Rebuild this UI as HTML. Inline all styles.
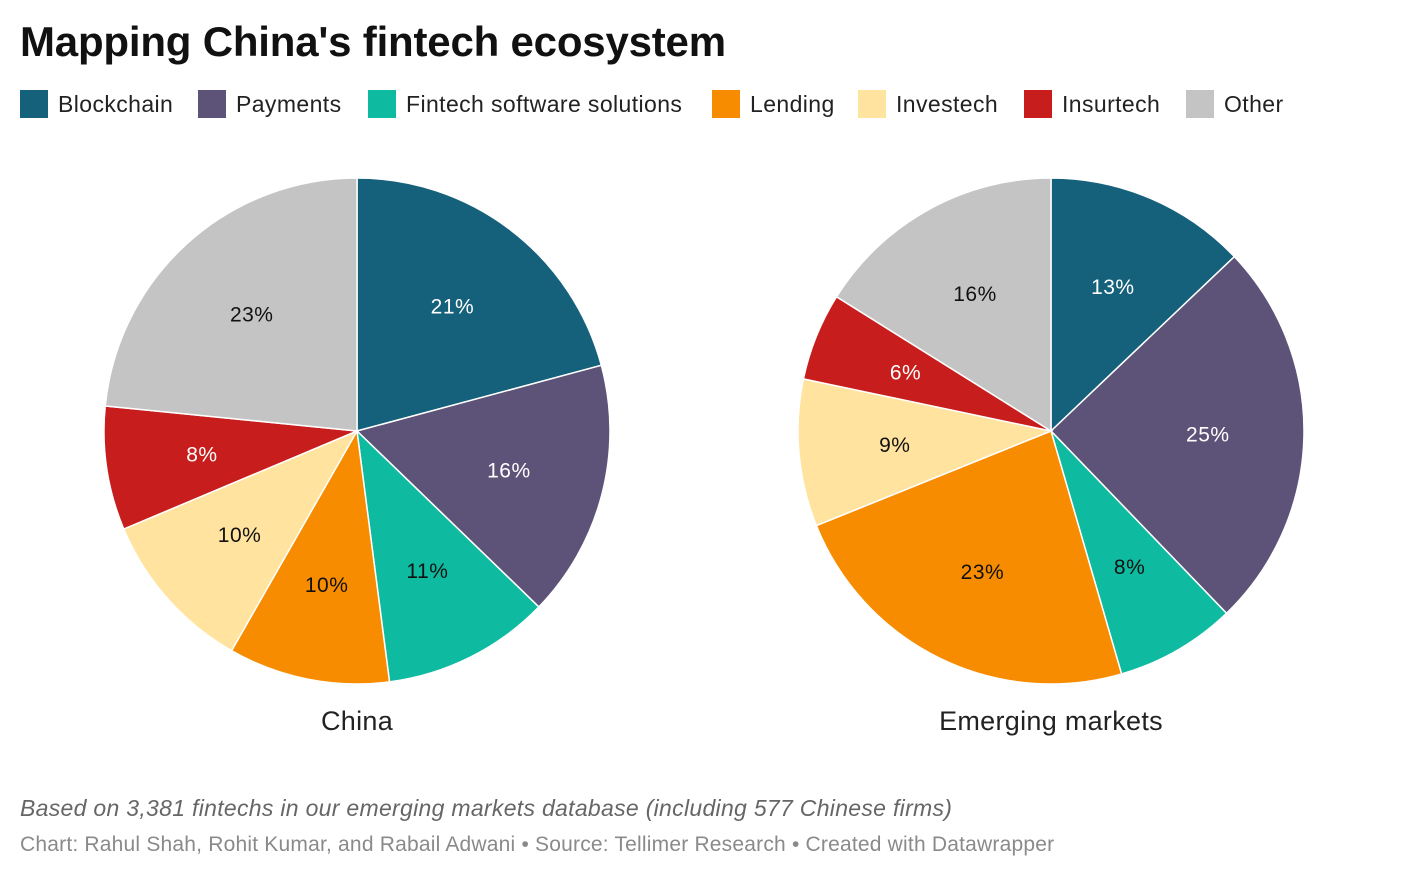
<!DOCTYPE html>
<html><head><meta charset="utf-8">
<style>
body{margin:0;width:1408px;height:880px;background:#fff;font-family:"Liberation Sans",sans-serif;position:relative;overflow:hidden;color:#222}
#title{position:absolute;left:20px;top:18px;font-size:42px;font-weight:bold;letter-spacing:-0.2px;color:#111}
.leg{position:absolute;top:90px;height:28px;display:flex;align-items:center;font-size:23px;letter-spacing:0.4px;color:#222;white-space:nowrap}
.leg span.sw{width:28px;height:28px;display:inline-block;margin-right:10px}
#note{position:absolute;left:20px;top:795px;font-size:23px;letter-spacing:0.3px;font-style:italic;color:#666;white-space:nowrap}
#credit{position:absolute;left:20px;top:833px;font-size:21px;letter-spacing:0.2px;color:#8a8a8a;white-space:nowrap}
</style></head><body>
<div id="title">Mapping China's fintech ecosystem</div>
<div id="legend"></div>
<svg id="chart" width="1408" height="880" style="position:absolute;left:0;top:0"></svg>
<div id="note">Based on 3,381 fintechs in our emerging markets database (including 577 Chinese firms)</div>
<div id="credit">Chart: Rahul Shah, Rohit Kumar, and Rabail Adwani • Source: Tellimer Research • Created with Datawrapper</div>
<script>
const categories=["Blockchain","Payments","Fintech software solutions","Lending","Investech","Insurtech","Other"];
const colors=["#15607a","#5d5277","#0ebba0","#f88c00","#ffe39e","#c71e1d","#c4c4c4"];
const darkText=[false,false,true,true,true,false,true];
const chinaValues=[20.8,16.4,10.7,10.3,10.4,7.9,23.4];
const emValues=[12.9,24.9,7.7,23.4,9.4,5.6,16.1];
const pieTitles=["China","Emerging markets"];
const legendX=[20,198,368,712,858,1024,1186];

const NS="http://www.w3.org/2000/svg";
const svg=document.getElementById('chart');
const leg=document.getElementById('legend');
categories.forEach((c,i)=>{
  const d=document.createElement('div');d.className='leg';d.style.left=legendX[i]+'px';
  
  
  d.innerHTML='<span class="sw" style="background:'+colors[i]+'"></span>'+c;
  leg.appendChild(d);
});
function pt(cx,cy,r,a){return [cx+r*Math.sin(a),cy-r*Math.cos(a)];}
function drawPie(vals,cx,cy,r,title,key){
  const tot=vals.reduce((a,b)=>a+b,0);let a0=0;
  vals.forEach((v,i)=>{
    const a1=a0+v/tot*2*Math.PI;
    const p0=pt(cx,cy,r,a0),p1=pt(cx,cy,r,a1);
    const p=document.createElementNS(NS,'path');
    p.setAttribute('d',`M${cx},${cy}L${p0[0]},${p0[1]}A${r},${r} 0 ${a1-a0>Math.PI?1:0} 1 ${p1[0]},${p1[1]}Z`);
    p.setAttribute('fill',colors[i]);p.setAttribute('stroke','#fff');p.setAttribute('stroke-width','1.5');
    
    
    svg.appendChild(p);
    const m=pt(cx,cy,r*0.62,(a0+a1)/2);
    const t=document.createElementNS(NS,'text');
    t.setAttribute('x',m[0]);t.setAttribute('y',m[1]+7);t.setAttribute('text-anchor','middle');
    t.setAttribute('font-size','21');t.setAttribute('letter-spacing','0.5');t.setAttribute('fill',darkText[i]?'#111':'#fff');
    t.textContent=Math.round(v)+'%';
    
    
    svg.appendChild(t);
    a0=a1;
  });
  const t=document.createElementNS(NS,'text');
  t.setAttribute('x',cx);t.setAttribute('y',cy+299);t.setAttribute('text-anchor','middle');
  t.setAttribute('font-size','27');t.setAttribute('letter-spacing','0.3');t.setAttribute('fill','#222');t.textContent=title;
  
  
  svg.appendChild(t);
}
drawPie(chinaValues,357,431,253,pieTitles[0],'china');
drawPie(emValues,1051,431,253,pieTitles[1],'em');
</script>
</body></html>
